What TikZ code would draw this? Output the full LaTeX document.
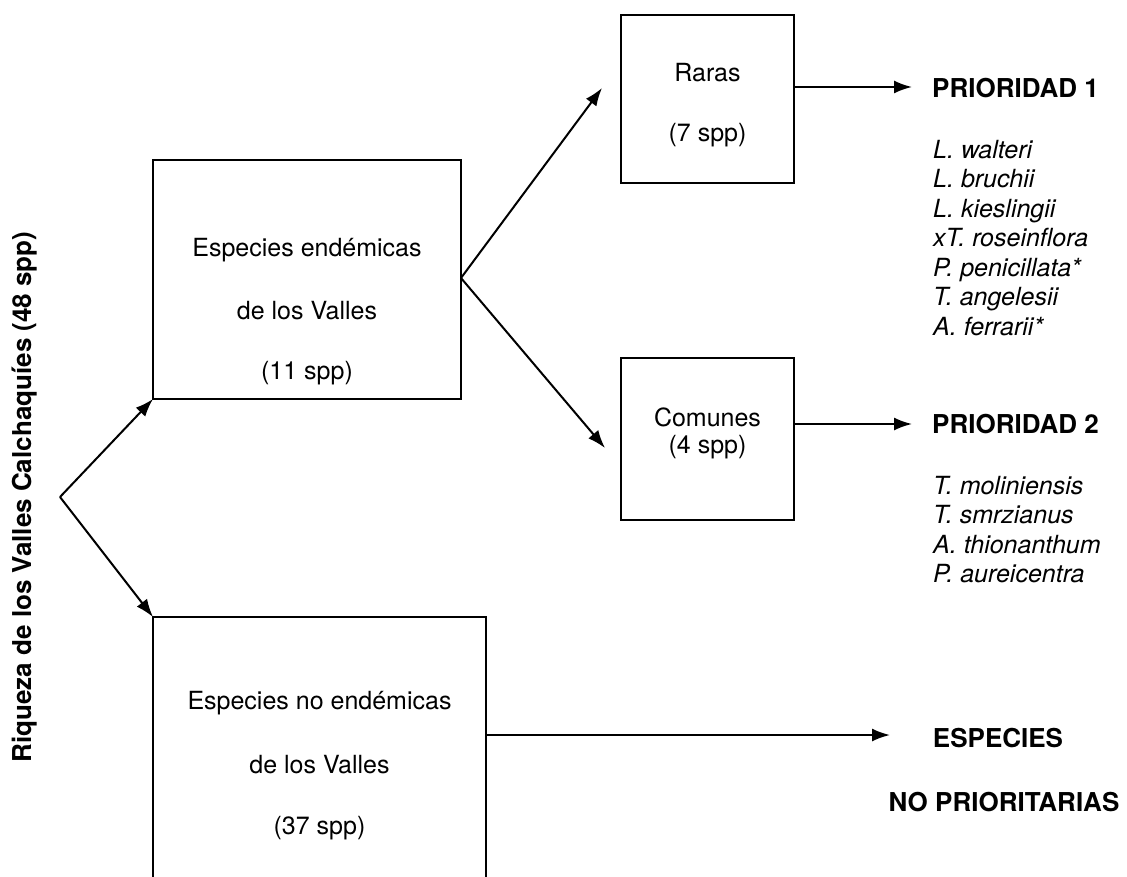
\documentclass[tikz,border=0pt]{standalone}
\usepackage{fontspec}
\setmainfont{TeX Gyre Heros}
\usetikzlibrary{arrows.meta,calc}
\begin{document}
\begin{tikzpicture}[x=1pt,y=-1pt,
  box/.style={draw,line width=2pt,outer sep=0pt,inner sep=0pt},
  txt/.style={font=\fontsize{25}{30}\selectfont,inner sep=0pt},
  btxt/.style={font=\fontsize{26}{30}\selectfont\bfseries,inner sep=0pt},
  itxt/.style={font=\fontsize{25}{29.5}\selectfont\itshape,inner sep=0pt,align=left},
  arr/.style={line width=2pt,-{Latex[length=18pt,width=13pt]}},
  ln/.style={line width=2pt}]
\useasboundingbox (0,0) rectangle (1127,877);
\fill[white] (0,0) rectangle (1127,877);

% left rotated title
\node[btxt,rotate=90] (title) at (25,497) {Riqueza de los Valles Calchaquíes (48 spp)};
\coordinate (apex) at (60,497);

% box 1
\node[box,minimum width=308pt,minimum height=239pt] (b1) at (307,279.5) {};
\node[txt] (b1a) at (307,250) {Especies endémicas};
\node[txt] (b1b) at (307,311) {de los Valles};
\node[txt] (b1c) at (307,373) {(11 spp)};
\coordinate (b1e) at (461,278);

% box 2 (cut at bottom)
\node[box,minimum width=333pt,minimum height=300pt,anchor=north west] (b2) at (153,617) {};
\node[txt] (b2a) at (319.5,703) {Especies no endémicas};
\node[txt] (b2b) at (319.5,765) {de los Valles};
\node[txt] (b2c) at (319.5,828) {(37 spp)};

% Raras
\node[box,minimum width=173pt,minimum height=168pt] (raras) at (707.5,99) {};
\node[txt] (rar1) at (707.5,73) {Raras};
\node[txt] (rar2) at (707.5,135) {(7 spp)};

% Comunes
\node[box,minimum width=173pt,minimum height=162pt] (com) at (707.5,439) {};
\node[txt] (com1) at (707.5,417) {Comunes};
\node[txt] (com2) at (707.5,447) {(4 spp)};

% arrow tips
\coordinate (t1) at (602,88);
\coordinate (t2) at (605,448);
\coordinate (p1) at (912,87);
\coordinate (p2) at (912,424);
\coordinate (p3) at (890,735);

% connectors
\draw[arr] (apex) -- (b1.south west);
\draw[arr] (apex) -- (b2.north west);
\draw[arr] (b1e) -- (t1);
\draw[arr] (b1e) -- (t2);
\draw[arr] (raras.east |- p1) -- (p1);
\draw[arr] (com.east |- p2) -- (p2);
\draw[arr] (b2.east |- p3) -- (p3);

% labels
\node[btxt,anchor=west] (pr1) at (932,88) {PRIORIDAD 1};
\node[btxt,anchor=west] (pr2) at (932,424) {PRIORIDAD 2};
\node[btxt] (esp) at (998,738) {ESPECIES};
\node[btxt] (nop) at (1004,802) {NO PRIORITARIAS};

\node[itxt,anchor=north west] (list1) at (933,140) {L. walteri\\L. bruchii\\L. kieslingii\\xT. roseinflora\\P. penicillata*\\T. angelesii\\A. ferrarii*};
\node[itxt,anchor=north west] (list2) at (933,476) {T. moliniensis\\T. smrzianus\\A. thionanthum\\P. aureicentra};
\end{tikzpicture}
\end{document}
